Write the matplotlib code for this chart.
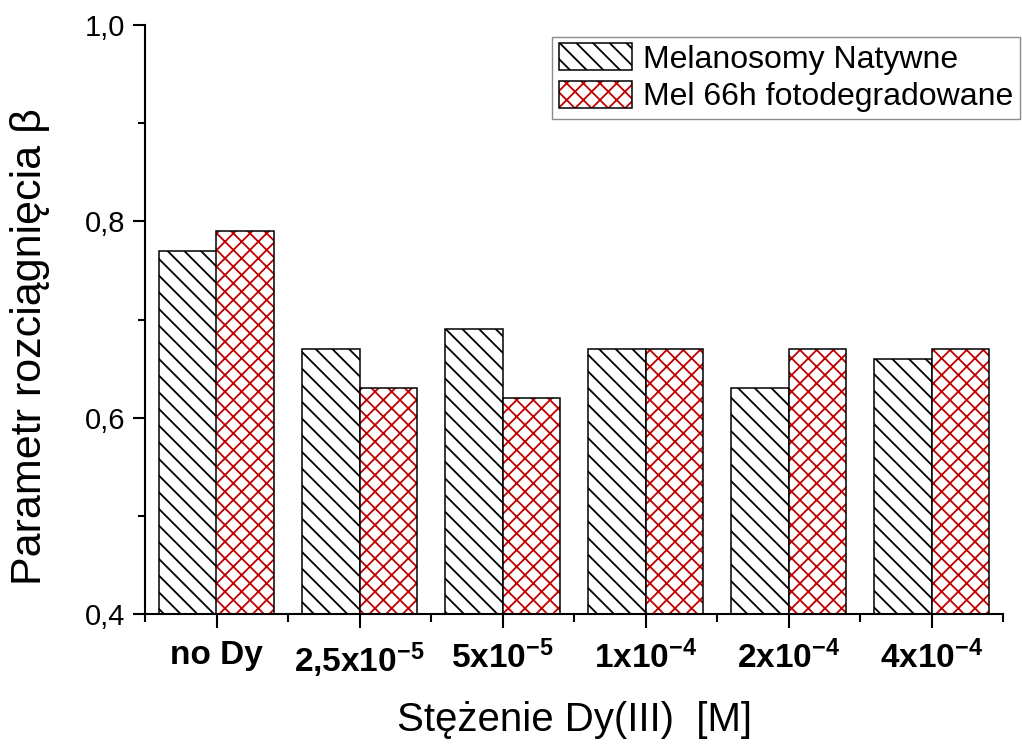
import numpy as np
import matplotlib.pyplot as plt
from matplotlib.patches import Patch
from matplotlib.legend_handler import HandlerTuple
from matplotlib.ticker import FuncFormatter, MultipleLocator

plt.rcParams['font.family'] = ['Liberation Sans', 'DejaVu Sans']
plt.rcParams['mathtext.fontset'] = 'custom'
plt.rcParams['mathtext.rm'] = 'Liberation Sans'
plt.rcParams['mathtext.bf'] = 'Liberation Sans:bold'
plt.rcParams['hatch.linewidth'] = 1.3

# data
categories = ['no Dy', r'$\mathbf{2{,}5x10^{-5}}$', r'$\mathbf{5x10^{-5}}$',
              r'$\mathbf{1x10^{-4}}$', r'$\mathbf{2x10^{-4}}$', r'$\mathbf{4x10^{-4}}$']
natywne = [0.77, 0.67, 0.69, 0.67, 0.63, 0.66]
fotodegr = [0.79, 0.63, 0.62, 0.67, 0.67, 0.67]
labels = ['Melanosomy Natywne', 'Mel 66h fotodegradowane']

red = '#c00000'
base = 0.4
w = 0.4
x = np.arange(1, len(categories) + 1)

fig = plt.figure(figsize=(10.22, 7.44), dpi=100)
ax = fig.add_axes([145/1022, 130/744, 858/1022, 589/744])

h1 = np.array(natywne) - base
h2 = np.array(fotodegr) - base
ax.bar(x - w/2, h1, w, bottom=base, color='white', edgecolor='black', hatch='\\\\', linewidth=1.1)
# red hatch with black outline -> draw twice
ax.bar(x + w/2, h2, w, bottom=base, color='white', edgecolor=red, hatch='xx', linewidth=0)
ax.bar(x + w/2, h2, w, bottom=base, fill=False, edgecolor='black', linewidth=1.1)

ax.set_xlim(0.5, 6.5)
ax.set_ylim(0.4, 1.0)
ax.spines['top'].set_visible(False)
ax.spines['right'].set_visible(False)
ax.spines['left'].set_linewidth(1.5)
ax.spines['bottom'].set_linewidth(1.5)

ax.set_xticks(x)
ax.set_xticklabels(categories, fontsize=24, fontweight='bold')
ax.set_xticks(np.arange(0.5, 7.0, 1.0), minor=True)
ax.set_yticks([0.4, 0.6, 0.8, 1.0])
ax.yaxis.set_minor_locator(MultipleLocator(0.1))
ax.yaxis.set_major_formatter(FuncFormatter(lambda v, p: f'{v:.1f}'.replace('.', ',')))
ax.tick_params(axis='y', which='major', length=9, width=1.5, labelsize=21, pad=5)
ax.tick_params(axis='y', which='minor', length=5, width=1.5)
ax.tick_params(axis='x', which='major', length=10, width=1.5, pad=9)
ax.tick_params(axis='x', which='minor', length=6, width=1.5)

fig.text(30/1022, 1 - 347/744, 'Parametr rozciągnięcia β', rotation=90,
         ha='center', va='center', fontsize=31)
fig.text(574/1022, 1 - 720/744, 'Stężenie Dy(III)  [M]', ha='center', va='center', fontsize=29)

p1 = Patch(facecolor='white', edgecolor='black', hatch='\\\\', linewidth=1.1)
p2a = Patch(facecolor='white', edgecolor=red, hatch='xx', linewidth=0)
p2b = Patch(fill=False, edgecolor='black', linewidth=1.1)
leg = ax.legend([p1, (p2a, p2b)], labels, handler_map={tuple: HandlerTuple(ndivide=1)},
                loc='upper right', bbox_to_anchor=(1020/1022, 1 - 37/744),
                bbox_transform=fig.transFigure, fontsize=23, fancybox=False,
                handlelength=2.3, handleheight=0.9, handletextpad=0.35,
                borderpad=0.2, labelspacing=0.2, borderaxespad=0)
leg.get_frame().set_edgecolor('#707070')
leg.get_frame().set_linewidth(1.0)

fig.savefig('out.png', dpi=100)
